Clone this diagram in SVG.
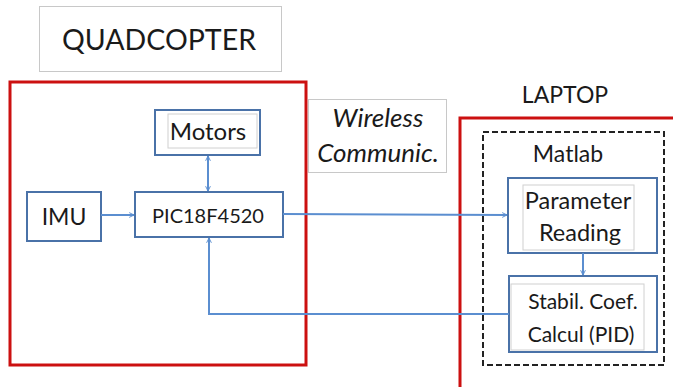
<svg xmlns="http://www.w3.org/2000/svg" width="673" height="387" viewBox="0 0 673 387">
<defs>
<style>
.t{font-family:Lato,"Open Sans","Liberation Sans",sans-serif;fill:#1a1a1a;text-anchor:middle}
.it{font-style:italic}
.lbl{fill:#fff;stroke:#c8c8c8;stroke-width:1}
.red{fill:none;stroke:#cc1010;stroke-width:3}
.blue{fill:#fff;stroke:#4a72a8;stroke-width:2}
.inner{fill:#fff;stroke:#d0d0d0;stroke-width:1}
.dash{fill:none;stroke:#222;stroke-width:2;stroke-dasharray:6,3}
.con{fill:none;stroke:#5b8ed0;stroke-width:2}
</style>
<marker id="ah" viewBox="0 0 10 10" refX="9" refY="5" markerWidth="6" markerHeight="6" orient="auto-start-reverse" markerUnits="userSpaceOnUse">
<path d="M1,1 L9,5 L1,9" fill="none" stroke="#5b8ed0" stroke-width="1.6"/>
</marker>
</defs>
<rect width="673" height="387" fill="#fff"/>

<g id="quadcopter-title">
<rect class="lbl" x="39.5" y="6.5" width="242" height="65"/>
<text class="t" x="159" y="50" font-size="28.5">QUADCOPTER</text>
</g>

<g id="quadcopter">
<rect class="red" x="10" y="82" width="296" height="283"/>
</g>

<g id="wireless">
<rect class="lbl" x="308.5" y="99.5" width="138" height="73"/>
<text class="t it" x="378" y="127" font-size="26">Wireless</text>
<text class="t it" x="378" y="162" font-size="26">Communic.</text>
</g>

<g id="laptop-title">
<text class="t" x="565" y="103" font-size="23">LAPTOP</text>
</g>

<g id="laptop">
<path class="red" d="M460,387 V118 H673"/>
</g>

<g id="matlab">
<rect class="dash" x="483" y="132" width="181" height="233"/>
<text class="t" x="568" y="162" font-size="23">Matlab</text>
</g>

<g id="motors">
<rect class="blue" x="155" y="110" width="105" height="45"/>
<rect class="inner" x="168" y="114" width="89" height="34"/>
<text class="t" x="208" y="140" font-size="24">Motors</text>
</g>

<g id="imu">
<rect class="blue" x="27" y="192" width="74" height="49"/>
<text class="t" x="64" y="225" font-size="23">IMU</text>
</g>

<g id="pic">
<rect class="blue" x="135" y="192" width="148" height="45"/>
<text class="t" x="208" y="223" font-size="20">PIC18F4520</text>
</g>

<g id="parameter">
<rect class="blue" x="508" y="178" width="149" height="75"/>
<rect class="inner" x="523" y="185" width="111" height="65"/>
<text class="t" x="578" y="209" font-size="23.5">Parameter</text>
<text class="t" x="580" y="241" font-size="23.5">Reading</text>
</g>

<g id="stabil">
<rect class="blue" x="509" y="276" width="148" height="76"/>
<rect class="inner" x="511" y="284" width="133" height="66"/>
<text class="t" x="583" y="309" font-size="21">Stabil. Coef.</text>
<text class="t" x="581" y="342" font-size="21">Calcul (PID)</text>
</g>

<g id="connectors">
<line class="con" x1="208" y1="156" x2="208" y2="191" marker-start="url(#ah)" marker-end="url(#ah)"/>
<line class="con" x1="101" y1="215" x2="134" y2="215" marker-end="url(#ah)"/>
<line class="con" x1="283" y1="214" x2="507" y2="215" marker-end="url(#ah)"/>
<line class="con" x1="583" y1="253" x2="583" y2="275" marker-end="url(#ah)"/>
<path class="con" d="M509,314 H209 V238" marker-end="url(#ah)"/>
</g>
</svg>
